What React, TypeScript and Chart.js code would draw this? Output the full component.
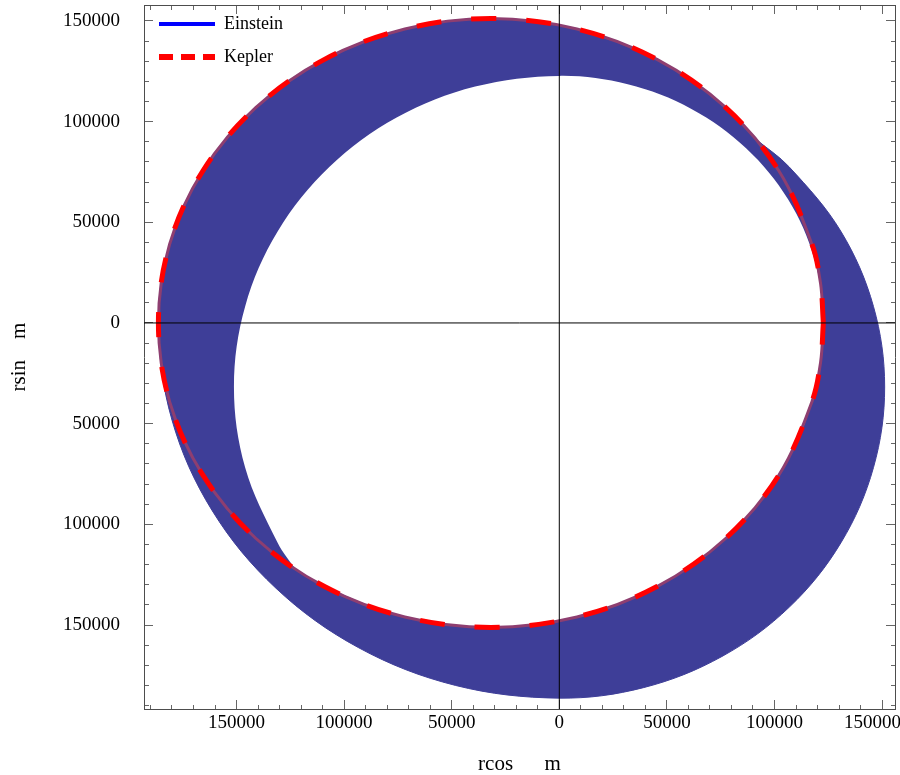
import React, { useEffect, useRef } from 'react';
import { Chart, registerables } from 'chart.js';

Chart.register(...registerables);

const FONT = "'Liberation Serif', 'Times New Roman', serif";

// Axis ranges and ticks
const X_MIN = -193000;
const X_MAX = 156000;
const Y_MIN = -191700;
const Y_MAX = 157900;
const MAJOR_STEP = 50000;
const MINOR_STEP = 10000;

const X_TICK_VALUES = [-150000, -100000, -50000, 0, 50000, 100000, 150000];
const X_TICK_LABELS = ['150000', '100000', '50000', '0', '50000', '100000', '150000    '];
const Y_TICK_VALUES = [-150000, -100000, -50000, 0, 50000, 100000, 150000];
const Y_TICK_LABELS = ['150000', '100000', '50000', '0', '50000', '100000', '150000'];

const X_TITLE = 'rcos      m';
const Y_TITLE = 'rsin    m';
const SERIES_NAMES = ['Einstein', 'Kepler'];

// Kepler orbit (closed ellipse)
const KEPLER_X = [
  122700, 121400, 117400, 102000, 77400, 45400, 8200, -31800, -71800, -109100, -141100, -165600, -181100,
  -186300, -181100, -165600, -141100, -109100, -71800, -31800, 8200, 45400, 77400, 102000, 117400, 121400, 122700,
];
const KEPLER_Y = [
  0, 19700, 39100, 75600, 106900, 130900, 146000, 151200, 146000, 130900, 106900, 75600, 39100,
  0, -39100, -75600, -106900, -130900, -146000, -151200, -146000, -130900, -106900, -75600, -39100, -19700, 0,
];

// Einstein (precessing) orbit: outer edge of the swept band
const EINSTEIN_OUTER_X = [
  91300, 77400, 45400, 8200, -31800, -71800, -109100, -141100, -165600, -181100, -186300,
  -180000, -161300, -131700, -93200, -48200, 0,
  39100, 75600, 106900, 130900, 146000, 151200, 146000, 130900, 106900, 91300,
];
const EINSTEIN_OUTER_Y = [
  91300, 106900, 130900, 146000, 151200, 146000, 130900, 106900, 75600, 39100, 0,
  -48200, -93200, -131700, -161300, -180000, -186300,
  -181100, -165600, -141100, -109100, -71800, -31800, 8200, 45400, 77400, 91300,
];

// Einstein orbit: inner edge of the swept band (hole)
const EINSTEIN_INNER_X = [
  -122500, -109100, -71800, -31800, 8200, 45400, 77400, 102000, 117400, 122700,
  118500, 106300, 86800, 61400, 31800, 0,
  -39100, -75600, -106900, -130900, -146000, -151200, -146000, -130900, -122500,
];
const EINSTEIN_INNER_Y = [
  -122500, -130900, -146000, -151200, -146000, -130900, -106900, -75600, -39100, 0,
  31800, 61400, 86800, 106300, 118500, 122700,
  117400, 102000, 77400, 45400, 8200, -31800, -71800, -109100, -122500,
];

const BAND_COLOR = '#3e3e98';
const KEPLER_UNDER_COLOR = 'rgb(142,62,112)';
const KEPLER_COLOR = '#ff0000';
const LEGEND_BLUE = '#0000ff';
const TENSION = 0.35;

const toPoints = (xs: number[], ys: number[]) => xs.map((x, i) => ({ x, y: ys[i] }));

const isMajor = (v: number) => Math.abs(v % MAJOR_STEP) < 1;

function makeAxis(
  axis: 'x' | 'y',
  position: 'top' | 'bottom' | 'left' | 'right',
  min: number,
  max: number,
  values: number[] | null,
  labels: string[] | null,
  title: string | null,
) {
  const fromBorder = position === 'bottom' || position === 'right';
  const showLabels = !!labels;
  return {
    type: 'linear',
    axis,
    position,
    min,
    max,
    afterBuildTicks: (s: any) => {
      const t: any[] = [];
      for (let v = Math.ceil(min / MINOR_STEP) * MINOR_STEP; v <= max; v += MINOR_STEP) t.push({ value: v });
      s.ticks = t;
    },
    afterFit: (s: any) => {
      if (axis === 'x') {
        s.height = position === 'bottom' ? 66 : 0;
        s.paddingLeft = 0;
        s.paddingRight = 0;
      } else {
        s.width = position === 'left' ? 144 : 0;
        s.paddingTop = 0;
        s.paddingBottom = 0;
      }
    },
    grid: {
      display: true,
      drawOnChartArea: false,
      drawTicks: true,
      tickLength: -9,
      tickColor: '#666666',
      tickWidth: 1,
      tickBorderDash: (c: any) => {
        if (!c || !c.tick) return [];
        if (isMajor(c.tick.value)) return [];
        return fromBorder ? [5, 100] : [0, 4, 5, 100];
      },
    },
    border: { display: true, color: '#4d4d4d', width: 1 },
    ticks: {
      display: showLabels,
      autoSkip: false,
      maxRotation: 0,
      minRotation: 0,
      padding: axis === 'x' ? 12 : 33,
      color: '#000000',
      font: { family: FONT, size: 19 },
      callback: (v: number) => {
        if (!values || !labels) return '';
        const i = values.indexOf(v);
        return i >= 0 ? labels[i] : '';
      },
    },
    title: title
      ? {
          display: true,
          text: title,
          color: '#000000',
          font: { family: FONT, size: 21, lineHeight: 1 },
          padding: axis === 'x' ? { top: 0, bottom: 0 } : { top: 9, bottom: 0 },
        }
      : { display: false },
  };
}

export default function App() {
  const canvasRef = useRef<HTMLCanvasElement | null>(null);

  useEffect(() => {
    const canvas = canvasRef.current;
    if (!canvas) return;

    const chart = new Chart(canvas, {
      type: 'scatter',
      data: {
        datasets: [
          {
            label: SERIES_NAMES[0],
            data: toPoints(EINSTEIN_OUTER_X, EINSTEIN_OUTER_Y),
            showLine: true,
            fill: 'shape',
            backgroundColor: BAND_COLOR,
            borderColor: BAND_COLOR,
            borderWidth: 1,
            tension: TENSION,
            pointRadius: 0,
            pointHoverRadius: 0,
            order: 6,
          },
          {
            label: 'hole',
            data: toPoints(EINSTEIN_INNER_X, EINSTEIN_INNER_Y),
            showLine: true,
            fill: 'shape',
            backgroundColor: '#ffffff',
            borderColor: 'rgba(0,0,0,0)',
            borderWidth: 1,
            tension: TENSION,
            pointRadius: 0,
            pointHoverRadius: 0,
            order: 5,
          },
          {
            label: 'kepler-under',
            data: toPoints(KEPLER_X, KEPLER_Y),
            showLine: true,
            fill: false,
            borderColor: KEPLER_UNDER_COLOR,
            borderWidth: 3,
            tension: TENSION,
            pointRadius: 0,
            pointHoverRadius: 0,
            order: 4,
          },
          {
            label: SERIES_NAMES[1],
            data: toPoints(KEPLER_X, KEPLER_Y),
            showLine: true,
            fill: false,
            borderColor: KEPLER_COLOR,
            borderWidth: 5,
            borderDash: [25, 30],
            tension: TENSION,
            pointRadius: 0,
            pointHoverRadius: 0,
            order: 3,
          },
          {
            label: 'axis-x0',
            data: [
              { x: 0, y: Y_MIN },
              { x: 0, y: Y_MAX },
            ],
            showLine: true,
            fill: false,
            borderColor: '#000000',
            borderWidth: 1,
            pointRadius: 0,
            pointHoverRadius: 0,
            order: 1,
          },
          {
            label: 'axis-y0',
            data: [
              { x: X_MIN, y: 0 },
              { x: X_MAX, y: 0 },
            ],
            showLine: true,
            fill: false,
            borderColor: '#000000',
            borderWidth: 1,
            pointRadius: 0,
            pointHoverRadius: 0,
            order: 1,
          },
        ],
      },
      options: {
        responsive: false,
        maintainAspectRatio: false,
        animation: false,
        devicePixelRatio: 1,
        events: [],
        layout: { padding: { left: 0, right: 5, top: 5, bottom: 0 } },
        scales: {
          x: makeAxis('x', 'bottom', X_MIN, X_MAX, X_TICK_VALUES, X_TICK_LABELS, X_TITLE),
          x2: makeAxis('x', 'top', X_MIN, X_MAX, null, null, null),
          y: makeAxis('y', 'left', Y_MIN, Y_MAX, Y_TICK_VALUES, Y_TICK_LABELS, Y_TITLE),
          y2: makeAxis('y', 'right', Y_MIN, Y_MAX, null, null, null),
        } as any,
        plugins: {
          tooltip: { enabled: false },
          title: { display: false },
          legend: {
            display: true,
            position: 'chartArea' as any,
            align: 'start',
            labels: {
              usePointStyle: true,
              pointStyleWidth: 56,
              padding: 15,
              color: '#000000',
              font: { family: FONT, size: 18 },
              generateLabels: () => [
                {
                  text: SERIES_NAMES[0],
                  pointStyle: 'line',
                  strokeStyle: LEGEND_BLUE,
                  fillStyle: LEGEND_BLUE,
                  lineWidth: 4,
                  lineDash: [],
                  hidden: false,
                  datasetIndex: 0,
                },
                {
                  text: SERIES_NAMES[1],
                  pointStyle: 'line',
                  strokeStyle: KEPLER_COLOR,
                  fillStyle: KEPLER_COLOR,
                  lineWidth: 6,
                  lineDash: [14, 8],
                  hidden: false,
                  datasetIndex: 3,
                },
              ],
            },
          },
        },
      } as any,
    });

    return () => {
      chart.destroy();
    };
  }, []);

  return (
    <div style={{ position: 'fixed', left: 0, top: 0, width: 900, height: 775, background: '#ffffff' }}>
      <canvas ref={canvasRef} width={900} height={775} style={{ display: 'block' }} />
    </div>
  );
}
